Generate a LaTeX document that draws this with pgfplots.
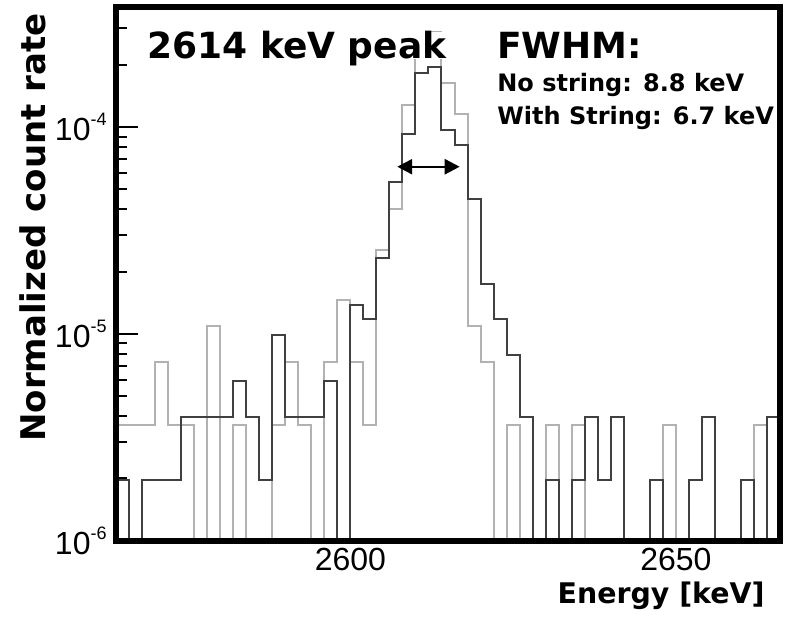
\documentclass[border=0pt]{standalone}
\usepackage{fontspec}
\setmainfont{Liberation Sans}
\newfontfamily\comic{DejaVu Sans}
\usepackage{pgfplots}
\pgfplotsset{compat=1.18}
\usetikzlibrary{arrows.meta}
\definecolor{histdark}{gray}{0.25}
\definecolor{histlight}{gray}{0.70}
% 10^x label in the text font, superscript set small and raised
\newcommand{\tenpow}[1]{10\raisebox{7.5pt}{\fontsize{9}{9}\selectfont #1}}

\begin{document}
\begin{tikzpicture}
\path[use as bounding box] (-58pt,-40.25pt) rectangle (336pt,270.25pt);
\begin{axis}[
    at={(0pt,0pt)}, anchor=south west,
    scale only axis, width=332pt, height=266.75pt,
    ymode=log,
    xmin=2564, xmax=2666, ymin=1e-6, ymax=3.81e-4,
    axis on top,
    axis line style={line width=3pt},
    xtick={2600,2650}, xticklabels={2600,2650},
    xtick style={draw=none},
    ytick={1e-6,1e-5,1e-4},
    yticklabels={\tenpow{-6},\tenpow{-5},\tenpow{-4}},
    minor ytick={2e-6,3e-6,4e-6,5e-6,6e-6,7e-6,8e-6,9e-6,
                 2e-5,3e-5,4e-5,5e-5,6e-5,7e-5,8e-5,9e-5,2e-4,3e-4},
    tick align=inside, ytick pos=left, xtick pos=bottom,
    major tick length=11pt, minor tick length=5.3pt,
    ytick style={line width=1pt, black},
    tick label style={font=\fontsize{16}{16}\selectfont},
    yticklabel style={inner sep=0pt, xshift=-4.5pt},
    xticklabel style={inner sep=0pt, yshift=-3.75pt},
]
% with string (light)
\addplot[const plot mark left, histlight, line width=1pt] coordinates {
    (2564,3.64e-6) (2566,3.64e-6) (2568,3.64e-6) (2570,7.28e-6) (2572,3.64e-6)
    (2574,3.64e-6) (2576,1e-7) (2578,1.09e-5) (2580,1e-7) (2582,3.64e-6)
    (2584,1e-7) (2586,1e-7) (2588,3.64e-6) (2590,7.28e-6) (2592,3.64e-6)
    (2594,1e-7) (2596,7.28e-6) (2598,1.46e-5) (2600,7.28e-6) (2602,3.64e-6)
    (2604,2.55e-5) (2606,4.0e-5) (2608,1.28e-4) (2610,2.7e-4) (2612,2.9e-4)
    (2614,1.63e-4) (2616,1.16e-4) (2618,1.09e-5) (2620,7.28e-6) (2622,1e-7)
    (2624,3.64e-6) (2626,1e-7) (2628,1e-7) (2630,3.64e-6) (2632,1e-7)
    (2634,3.64e-6) (2636,1e-7) (2638,1e-7) (2640,1e-7) (2642,1e-7)
    (2644,1e-7) (2646,1e-7) (2648,3.64e-6) (2650,1e-7) (2652,1e-7)
    (2654,1e-7) (2656,1e-7) (2658,1e-7) (2660,1e-7) (2662,3.64e-6)
    (2664,1e-7) (2666,1e-7)
};
% no string (dark)
\addplot[const plot mark left, histdark, line width=1pt] coordinates {
    (2564,1.97e-6) (2566,1e-7) (2568,1.97e-6) (2570,1.97e-6) (2572,1.97e-6)
    (2574,3.94e-6) (2576,3.94e-6) (2578,3.94e-6) (2580,3.94e-6) (2582,5.91e-6)
    (2584,3.94e-6) (2586,1.97e-6) (2588,9.85e-6) (2590,3.94e-6) (2592,3.94e-6)
    (2594,3.94e-6) (2596,5.91e-6) (2598,1e-7) (2600,1.38e-5) (2602,1.18e-5)
    (2604,2.33e-5) (2606,5.42e-5) (2608,9.3e-5) (2610,1.82e-4) (2612,1.95e-4)
    (2614,9.64e-5) (2616,8.17e-5) (2618,4.5e-5) (2620,1.75e-5) (2622,1.18e-5)
    (2624,7.88e-6) (2626,3.94e-6) (2628,1e-7) (2630,1.97e-6) (2632,1e-7)
    (2634,1.97e-6) (2636,3.94e-6) (2638,1.97e-6) (2640,3.94e-6) (2642,1e-7)
    (2644,1e-7) (2646,1.97e-6) (2648,1e-7) (2650,1e-7) (2652,1.97e-6)
    (2654,3.94e-6) (2656,1e-7) (2658,1e-7) (2660,1.97e-6) (2662,1e-7)
    (2664,3.94e-6) (2666,3.94e-6)
};
\draw[{Triangle[length=7.5pt,width=7.5pt]}-{Triangle[length=7.5pt,width=7.5pt]}, line width=1.2pt]
    (axis cs:2607.2,6.43e-5) -- (axis cs:2616.8,6.43e-5);
\end{axis}
\node[anchor=base west, inner sep=0pt, text depth=0pt, fill=white,
      font=\comic\bfseries\fontsize{18}{18}\selectfont] at (15.5pt,240.75pt) {2614 keV peak};
\node[anchor=base west, inner sep=0pt,
      font=\comic\bfseries\fontsize{18}{18}\selectfont] at (190.5pt,240.75pt) {FWHM:};
\node[anchor=base west, inner sep=0pt,
      font=\comic\bfseries\fontsize{12}{12}\selectfont] at (190.5pt,224.25pt) {No string: 8.8 keV};
\node[anchor=base west, inner sep=0pt,
      font=\comic\bfseries\fontsize{12}{12}\selectfont] at (190.5pt,207.75pt) {With String: 6.7 keV};
\node[anchor=base east, inner sep=0pt,
      font=\comic\bfseries\fontsize{14.2}{14.2}\selectfont] at (324.5pt,-31.75pt) {Energy [keV]};
\node[rotate=90, anchor=base, inner sep=0pt,
      font=\comic\bfseries\fontsize{17}{17}\selectfont] at (-35pt,156.5pt) {Normalized count rate};
\end{tikzpicture}
\end{document}
